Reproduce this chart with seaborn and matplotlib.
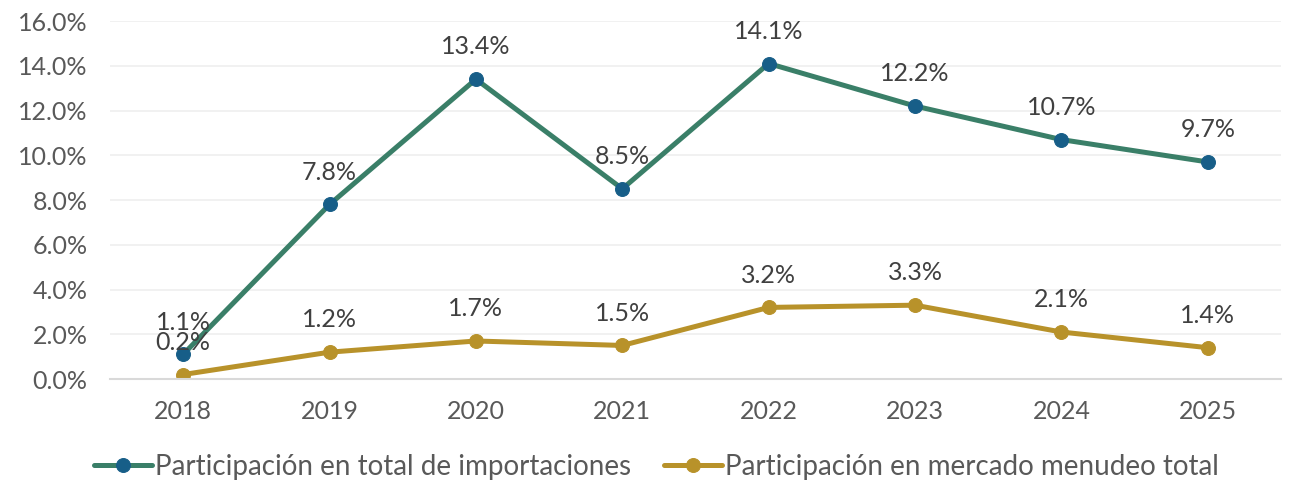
import matplotlib
matplotlib.use("Agg")
import matplotlib.pyplot as plt
import seaborn as sns
import pandas as pd
from matplotlib.ticker import FuncFormatter, MultipleLocator

years = ["2018", "2019", "2020", "2021", "2022", "2023", "2024", "2025"]
imports_share = [1.1, 7.8, 13.4, 8.5, 14.1, 12.2, 10.7, 9.7]
retail_share = [0.2, 1.2, 1.7, 1.5, 3.2, 3.3, 2.1, 1.4]
series_names = ["Participación en total de importaciones",
                "Participación en mercado menudeo total"]

sns.set_theme(style="white")
plt.rcParams['font.family'] = ['Lato', 'DejaVu Sans']

text_color = "#595959"
green = "#3a7f68"
blue = "#175e88"
gold = "#b8922a"

fig = plt.figure(figsize=(12.92, 4.84), dpi=100)
ax = fig.add_axes([0.0851, 0.2169, 0.9064, 0.7397])

df1 = pd.DataFrame({"year": years, "val": imports_share})
df2 = pd.DataFrame({"year": years, "val": retail_share})

sns.lineplot(data=df1, x="year", y="val", ax=ax, color=green, linewidth=3.6,
             marker="o", markersize=10, markerfacecolor=blue, markeredgecolor=blue,
             label=series_names[0], sort=False)
sns.lineplot(data=df2, x="year", y="val", ax=ax, color=gold, linewidth=3.6,
             marker="o", markersize=10, markerfacecolor=gold, markeredgecolor=gold,
             label=series_names[1], sort=False)

for i, v in enumerate(imports_share):
    ax.annotate(f"{v:.1f}%", (i, v), xytext=(0, 15), textcoords="offset points",
                ha="center", va="bottom", fontsize=18, color="#404040")
for i, v in enumerate(retail_share):
    ax.annotate(f"{v:.1f}%", (i, v), xytext=(0, 15), textcoords="offset points",
                ha="center", va="bottom", fontsize=18, color="#404040")

ax.set_xlim(-0.5, len(years) - 0.5)
ax.set_ylim(0, 16)
ax.yaxis.set_major_locator(MultipleLocator(2))
ax.yaxis.set_major_formatter(FuncFormatter(lambda v, p: f"{v:.1f}%"))
ax.grid(axis="y", color="#efefef", linewidth=1.2)
ax.set_axisbelow(True)
for s in ["top", "right", "left"]:
    ax.spines[s].set_visible(False)
ax.spines["bottom"].set_color("#d9d9d9")
ax.spines["bottom"].set_linewidth(1.5)
ax.tick_params(axis="both", length=0, labelsize=18, labelcolor=text_color)
ax.tick_params(axis="x", pad=15)
ax.tick_params(axis="y", pad=16)
ax.set_xlabel("")
ax.set_ylabel("")

ax.get_legend().remove()
handles, labels = ax.get_legend_handles_labels()
leg = fig.legend(handles, labels, loc="center", bbox_to_anchor=(0.508, 0.035), ncol=2,
                 frameon=False, fontsize=20, handlelength=2.1, columnspacing=1.2,
                 handletextpad=0.1, borderaxespad=0)
for t in leg.get_texts():
    t.set_color(text_color)

fig.savefig("out.png", dpi=100)
